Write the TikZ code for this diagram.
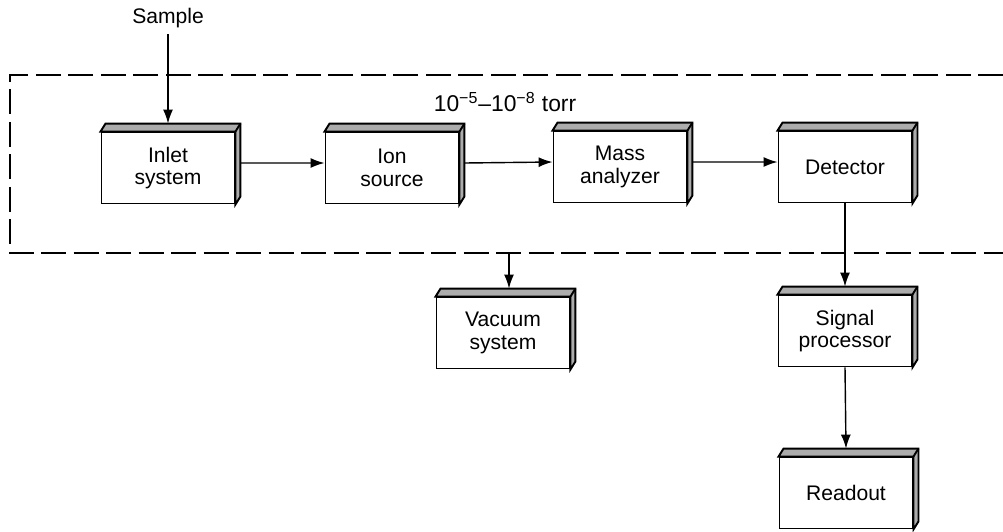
\documentclass[tikz,border=0pt]{standalone}
\usepackage{fontspec}
\setmainfont{Liberation Sans}
\usepackage{tikz}
\usetikzlibrary{arrows.meta,calc}

\begin{document}
\begin{tikzpicture}[x=0.02cm,y=-0.02cm,
  font=\fontsize{12}{13}\selectfont,
  unit/.style={draw,line width=1.1pt,fill=white,align=center,minimum width=2.66cm,minimum height=1.42cm,inner sep=0pt},
  face/.style={draw,line width=1.1pt,fill=gray!65},
  arr/.style={-{Latex[length=2.8mm,width=2mm]},thick}]
  \useasboundingbox (0,0) rectangle (1003,531);
  % vacuum enclosure
  \draw[line width=1.1pt,dash pattern=on 0.5cm off 0.15cm] (1003,75) -- (10,75) -- (10,253) -- (1003,253);
  \node[font=\fontsize{13}{15}\selectfont] at (505,102) {10\textsuperscript{−5}–10\textsuperscript{−8} torr};
  \node (smp) at (168,18) {Sample};
  \node[unit] (inlet) at (168,168) {Inlet\\system};
  \node[unit] (ion) at (392,168) {Ion\\source};
  \node[unit] (mass) at (620,167) {Mass\\analyzer};
  \node[unit] (det) at (845,167) {Detector};
  \node[unit] (vac) at (503,333) {Vacuum\\system};
  \node[unit] (sig) at (845,331) {Signal\\processor};
  \node[unit] (out) at (846,493) {Readout};
  % shaded top and right faces
  \foreach \n in {inlet,ion,mass,det,vac,sig,out}{
    \draw[face] (\n.north west) -- ++(5,-8) -- ([shift={(5,-8)}]\n.north east)
      -- ([shift={(5,-8)}]\n.south east) -- (\n.south east) -- (\n.north east) -- cycle;
    \draw[line width=1.1pt] (\n.north east) -- ++(5,-8);
  }
  \coordinate (vtap) at (509,253);
  \draw[arr] (smp) -- ([yshift=0.16cm]inlet.north);
  \draw[arr] ([shift={(5,-5)}]inlet.east) -- ([yshift=0.1cm]ion.west);
  \draw[arr] ([shift={(5,-5)}]ion.east) -- ([yshift=0.1cm]mass.west);
  \draw[arr] ([shift={(5,-5)}]mass.east) -- ([yshift=0.1cm]det.west);
  \draw[arr] (det.south) -- ([yshift=0.16cm]sig.north);
  \draw[arr] (sig.south) -- ([yshift=0.16cm]out.north);
  \draw[arr] (vtap) -- ($(vtap |- vac.north)+(0,-8)$);
\end{tikzpicture}
\end{document}
